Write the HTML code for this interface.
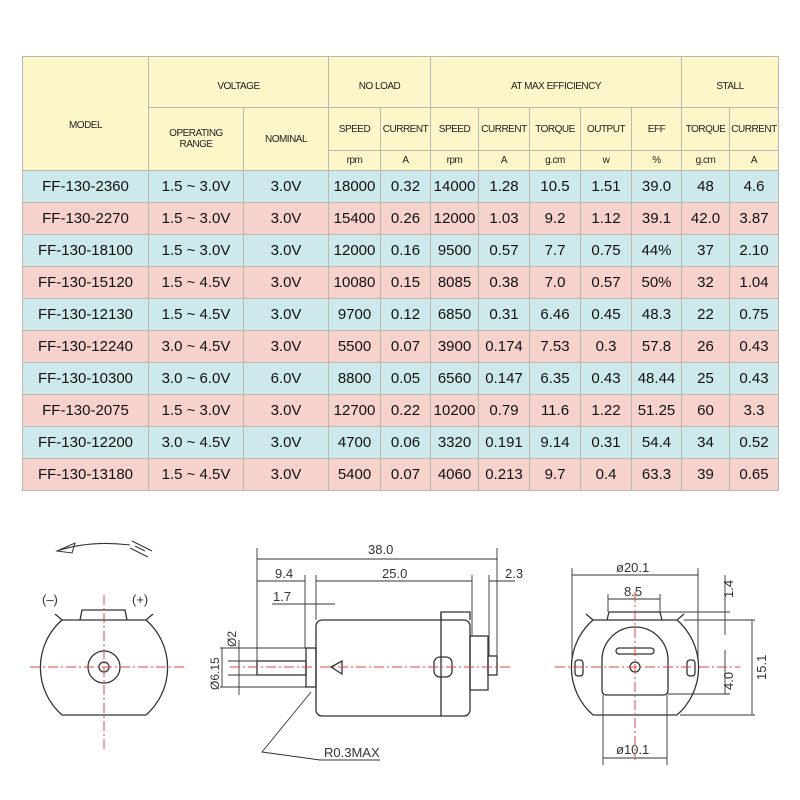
<!DOCTYPE html>
<html><head><style>
body{margin:0;width:800px;height:800px;background:#fff;position:relative;overflow:hidden;font-family:"Liberation Sans",sans-serif;}
table{position:absolute;left:22px;top:56px;border-collapse:collapse;table-layout:fixed;}
td{border:1px solid #b9b9b0;text-align:center;padding:0;color:#222;}
.h td{background:#fdf6c9;font-size:10px;letter-spacing:-0.5px;}
.b td{background:#cde9ec;font-size:15px;color:#111;}
.p td{background:#f6d2cd;font-size:15px;color:#111;}
.b td,.p td{height:31px;}
svg{position:absolute;left:0;top:0;}
</style></head><body>
<table>
<colgroup><col style="width:126px"><col style="width:95px"><col style="width:85px"><col style="width:52px"><col style="width:50px"><col style="width:48px"><col style="width:51px"><col style="width:51px"><col style="width:51px"><col style="width:50px"><col style="width:48px"><col style="width:49px"></colgroup>
<tr class="h" style="height:51px"><td rowspan="3" style="padding-top:24px">MODEL</td><td colspan="2" style="padding-top:8px">VOLTAGE</td><td colspan="2" style="padding-top:8px">NO LOAD</td><td colspan="5" style="padding-top:8px">AT MAX EFFICIENCY</td><td colspan="2" style="padding-top:8px">STALL</td></tr>
<tr class="h" style="height:43px"><td rowspan="2">OPERATING<br>RANGE</td><td rowspan="2">NOMINAL</td><td>SPEED</td><td>CURRENT</td><td>SPEED</td><td>CURRENT</td><td>TORQUE</td><td>OUTPUT</td><td>EFF</td><td>TORQUE</td><td>CURRENT</td></tr>
<tr class="h" style="height:20px"><td>rpm</td><td>A</td><td>rpm</td><td>A</td><td>g.cm</td><td>w</td><td>%</td><td>g.cm</td><td>A</td></tr>
<tr class="b"><td>FF-130-2360</td><td>1.5 ~ 3.0V</td><td>3.0V</td><td>18000</td><td>0.32</td><td>14000</td><td>1.28</td><td>10.5</td><td>1.51</td><td>39.0</td><td>48</td><td>4.6</td></tr>
<tr class="p"><td>FF-130-2270</td><td>1.5 ~ 3.0V</td><td>3.0V</td><td>15400</td><td>0.26</td><td>12000</td><td>1.03</td><td>9.2</td><td>1.12</td><td>39.1</td><td>42.0</td><td>3.87</td></tr>
<tr class="b"><td>FF-130-18100</td><td>1.5 ~ 3.0V</td><td>3.0V</td><td>12000</td><td>0.16</td><td>9500</td><td>0.57</td><td>7.7</td><td>0.75</td><td>44%</td><td>37</td><td>2.10</td></tr>
<tr class="p"><td>FF-130-15120</td><td>1.5 ~ 4.5V</td><td>3.0V</td><td>10080</td><td>0.15</td><td>8085</td><td>0.38</td><td>7.0</td><td>0.57</td><td>50%</td><td>32</td><td>1.04</td></tr>
<tr class="b"><td>FF-130-12130</td><td>1.5 ~ 4.5V</td><td>3.0V</td><td>9700</td><td>0.12</td><td>6850</td><td>0.31</td><td>6.46</td><td>0.45</td><td>48.3</td><td>22</td><td>0.75</td></tr>
<tr class="p"><td>FF-130-12240</td><td>3.0 ~ 4.5V</td><td>3.0V</td><td>5500</td><td>0.07</td><td>3900</td><td>0.174</td><td>7.53</td><td>0.3</td><td>57.8</td><td>26</td><td>0.43</td></tr>
<tr class="b"><td>FF-130-10300</td><td>3.0 ~ 6.0V</td><td>6.0V</td><td>8800</td><td>0.05</td><td>6560</td><td>0.147</td><td>6.35</td><td>0.43</td><td>48.44</td><td>25</td><td>0.43</td></tr>
<tr class="p"><td>FF-130-2075</td><td>1.5 ~ 3.0V</td><td>3.0V</td><td>12700</td><td>0.22</td><td>10200</td><td>0.79</td><td>11.6</td><td>1.22</td><td>51.25</td><td>60</td><td>3.3</td></tr>
<tr class="b"><td>FF-130-12200</td><td>3.0 ~ 4.5V</td><td>3.0V</td><td>4700</td><td>0.06</td><td>3320</td><td>0.191</td><td>9.14</td><td>0.31</td><td>54.4</td><td>34</td><td>0.52</td></tr>
<tr class="p"><td>FF-130-13180</td><td>1.5 ~ 4.5V</td><td>3.0V</td><td>5400</td><td>0.07</td><td>4060</td><td>0.213</td><td>9.7</td><td>0.4</td><td>63.3</td><td>39</td><td>0.65</td></tr>
</table>
<svg width="800" height="800" font-family="Liberation Sans, sans-serif" font-size="12" fill="none" stroke="#333" stroke-width="1.3">
<path d="M57,551 Q90,540 130,545" stroke-width="1"/>
<path d="M57,551 L75,543 L72,553 Z" stroke-width="1"/>
<path d="M132,541 L152,551 M130,548 L148,557 M135,546 L145,551" stroke-width="1"/>
<text x="42" y="604" fill="#333" stroke="none" font-size="13">(–)</text>
<text x="132" y="604" fill="#333" stroke="none" font-size="13">(+)</text>
<path d="M62,620 A63,63 0 0 0 62,715 L146,715 A63,63 0 0 0 146,620 Z"/>
<path d="M80,620 L82,610 L125,610 L127,620 M62,620 L55,614 M146,620 L153,614"/>
<circle cx="104" cy="667" r="16"/><circle cx="104" cy="667" r="5"/>
<g stroke="#d44" stroke-width="1" stroke-dasharray="10,3,2,3"><line x1="30" y1="667" x2="185" y2="667"/><line x1="104" y1="595" x2="104" y2="750"/></g>
<rect x="257" y="661" width="49" height="14"/>
<rect x="306" y="648" width="10" height="39"/>
<rect x="316" y="620" width="154" height="96" rx="6"/>
<line x1="441" y1="612" x2="441" y2="716"/><path d="M441,620 L441,612 L470,612 L470,620"/>
<rect x="470" y="636" width="18" height="54"/>
<rect x="488" y="656" width="9" height="19"/>
<path d="M331,667 L342,661 L342,674 Z"/>
<rect x="434" y="657" width="18" height="20" rx="6"/>
<g stroke-width="0.9">
<line x1="257" y1="548" x2="257" y2="661"/><line x1="497" y1="548" x2="497" y2="656"/>
<line x1="305" y1="575" x2="305" y2="648"/><line x1="316" y1="575" x2="316" y2="620"/>
<line x1="472" y1="575" x2="472" y2="636"/><line x1="489" y1="575" x2="489" y2="656"/>
<line x1="257" y1="559" x2="497" y2="559"/>
<line x1="257" y1="581" x2="305" y2="581"/><line x1="316" y1="581" x2="472" y2="581"/><line x1="489" y1="581" x2="515" y2="581"/>
<line x1="272" y1="604" x2="335" y2="604"/>
<line x1="228" y1="661" x2="257" y2="661"/><line x1="228" y1="675" x2="257" y2="675"/>
<line x1="220" y1="648" x2="306" y2="648"/><line x1="220" y1="687" x2="306" y2="687"/>
<line x1="239" y1="640" x2="239" y2="695"/><line x1="222" y1="648" x2="222" y2="687"/>
<path d="M311,692 L262,752 L320,760 L380,760"/>
</g>
<g fill="#333" stroke="none" font-size="13">
<text x="368" y="554">38.0</text><text x="275" y="578">9.4</text><text x="382" y="578">25.0</text><text x="505" y="578">2.3</text>
<text x="273" y="601">1.7</text><text x="324" y="757">R0.3MAX</text>
<text transform="translate(236,647) rotate(-90)" font-size="12">Ø2</text>
<text transform="translate(219,690) rotate(-90)" font-size="12">Ø6.15</text>
</g>
<line x1="230" y1="667" x2="510" y2="667" stroke="#d44" stroke-width="1" stroke-dasharray="10,3,2,3"/>
<path d="M593,620 A63,63 0 0 0 593,715 L677,715 A63,63 0 0 0 677,620 Z"/>
<path d="M607,620 L609,612 L660,612 L662,620 M593,620 L586,614 M677,620 L684,614"/>
<path d="M602,660 A33,33 0 0 1 668,660 L668,690 Q668,695 663,695 L607,695 Q602,695 602,690 Z"/>
<rect x="616" y="648" width="38" height="6" rx="3"/>
<circle cx="635" cy="667" r="5"/>
<rect x="575" y="660" width="8" height="16" rx="3"/><rect x="687" y="660" width="8" height="16" rx="3"/>
<g stroke-width="0.9">
<line x1="572" y1="568" x2="572" y2="660"/><line x1="698" y1="568" x2="698" y2="660"/>
<line x1="572" y1="575" x2="698" y2="575"/>
<line x1="608" y1="594" x2="608" y2="612"/><line x1="660" y1="594" x2="660" y2="612"/>
<line x1="608" y1="599" x2="660" y2="599"/>
<line x1="660" y1="612" x2="730" y2="612"/><line x1="684" y1="620" x2="755" y2="620"/>
<line x1="680" y1="715" x2="755" y2="715"/><line x1="668" y1="694" x2="730" y2="694"/>
<line x1="752" y1="620" x2="752" y2="715"/>
<line x1="725" y1="575" x2="725" y2="635"/><line x1="725" y1="650" x2="725" y2="694"/>
<line x1="603" y1="695" x2="603" y2="765"/><line x1="667" y1="695" x2="667" y2="765"/>
<line x1="603" y1="758" x2="667" y2="758"/>
</g>
<g fill="#333" stroke="none" font-size="13">
<text x="616" y="572">ø20.1</text><text x="624" y="596">8.5</text><text x="616" y="754">ø10.1</text>
<text transform="translate(733,598) rotate(-90)">1.4</text>
<text transform="translate(733,690) rotate(-90)">4.0</text>
<text transform="translate(766,680) rotate(-90)">15.1</text>
</g>
<g stroke="#d44" stroke-width="1" stroke-dasharray="10,3,2,3"><line x1="555" y1="667" x2="740" y2="667"/><line x1="635" y1="592" x2="635" y2="760"/></g>
</svg>
</body></html>
